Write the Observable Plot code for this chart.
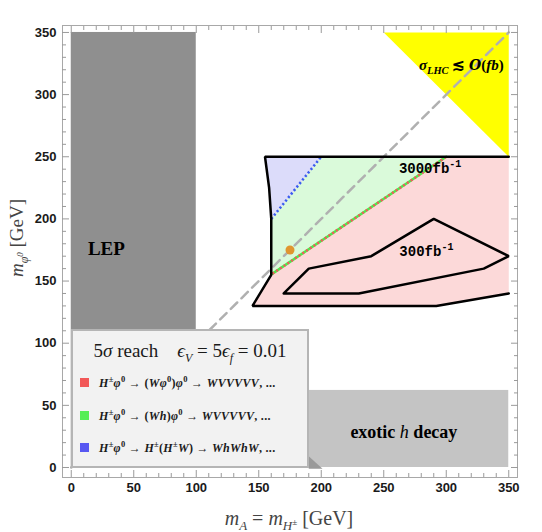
<!DOCTYPE html>
<html><head><meta charset="utf-8">
<script src="https://cdn.jsdelivr.net/npm/d3@7"></script>
<script src="https://cdn.jsdelivr.net/npm/@observablehq/plot@0.6"></script>
<style>
html,body{margin:0;padding:0;background:#fff;}
#wrap{position:relative;width:542px;height:532px;overflow:hidden;}
#wrap svg{position:absolute;left:0;top:0;}
.ann{position:absolute;white-space:nowrap;transform:translate(-50%,-50%);line-height:1;}
.serif{font-family:"Liberation Serif","DejaVu Serif",serif;}
.mono{font-family:"Liberation Mono","DejaVu Sans Mono",monospace;font-weight:bold;}
sup,sub{line-height:0;}
#legend{position:absolute;left:71px;top:329px;width:238px;height:139px;box-sizing:border-box;
  border:2px solid #b5b5b5;background:#f2f2f2;font-family:"Liberation Serif","DejaVu Serif",serif;color:#1a1a1a;}
#legend .title{position:absolute;left:0;width:100%;top:9px;text-align:center;font-size:19px;white-space:nowrap;}
#legend .row{position:absolute;left:7px;white-space:nowrap;font-size:12px;letter-spacing:0.3px;font-weight:bold;}
#legend .row sup{font-size:8.5px;}
#legend .sw{display:inline-block;width:9px;height:9px;margin-right:10px;vertical-align:0px;}
#xlabel{position:absolute;left:289px;top:518px;transform:translate(-50%,-50%);font-size:20px;color:#444;white-space:nowrap;line-height:1;}
#ylabel{position:absolute;left:16px;top:238px;transform:translate(-50%,-50%) rotate(-90deg);font-size:19px;color:#444;white-space:nowrap;line-height:1;}
</style></head><body><div id="wrap"></div>
<script>
// ---- data ----
const majorTicks = [0, 50, 100, 150, 200, 250, 300, 350];
const minorTicks = [10,20,30,40,60,70,80,90,110,120,130,140,160,170,180,190,210,220,230,240,260,270,280,290,310,320,330,340];

const lepBox = [{x1: 0, x2: 100, y1: 0, y2: 350}];
const exoticBox = [{x1: 190, x2: 350, y1: 0, y2: 62}];
const exoticCorner = [[190, 9], [190, -1], [201, -1]];
const lhcRegion = [[250, 350], [350, 350], [350, 250]];
const reach3000Region = [[155, 250], [350, 250], [350, 140], [292, 130], [145, 130], [160, 155], [160, 200], [158.3, 225]];
const greenRegion = [[160, 155], [300, 250], [200, 250], [160, 200]];
const blueRegion = [[160, 200], [200, 250], [155, 250], [158.3, 225]];
const outline3000 = [[350, 140], [292, 130], [145, 130], [160, 155], [160, 200], [158.3, 225], [155, 250], [350, 250]];
const contour300 = [[170, 140], [190, 160], [240, 170], [290, 200], [350, 170], [330, 160], [230, 140], [170, 140]];
const greenEdge = [[161, 156], [300, 250]];
const blueEdge = [[160, 200], [200, 250]];
const diagonal = [[0, 0], [350, 350]];
const benchmark = [{x: 175, y: 175}];

const annotations = [
  {id: "lep",    x: 28.5,  y: 176,   html: '<span class="serif" style="font-weight:bold;font-size:19px">LEP</span>'},
  {id: "exotic", x: 266.5, y: 28.4,  html: '<span class="serif" style="font-weight:bold;font-size:18px">exotic <i style="font-weight:normal">h</i> decay</span>'},
  {id: "lhc",    x: 312.5, y: 323.5, html: '<span class="serif" style="font-weight:bold;font-size:15px"><i>σ</i><sub style="font-size:10.5px"><i>LHC</i></sub> ≲ <span style="font-family:\'DejaVu Serif\';font-style:italic;font-size:14px">O</span>(<i>fb</i>)</span>'},
  {id: "l3000",  x: 287.5, y: 240.5, html: '<span class="mono" style="font-size:14px">3000fb<sup style="font-size:10px">-1</sup></span>'},
  {id: "l300",   x: 284.5, y: 173.5, html: '<span class="mono" style="font-size:14px">300fb<sup style="font-size:10px">-1</sup></span>'}
];

const legendTitle = '5<i>σ</i> reach &nbsp;&nbsp; <i>ϵ<sub style="font-size:12px">V</sub></i> = 5<i>ϵ<sub style="font-size:12px">f</sub></i> = 0.01';
const legendItems = [
  {color: "#f25858", html: '<i>H</i><sup>±</sup><i>φ</i><sup>0</sup> → (<i>Wφ</i><sup>0</sup>)<i>φ</i><sup>0</sup> → <i>WVVVVV</i>, ...'},
  {color: "#55ee55", html: '<i>H</i><sup>±</sup><i>φ</i><sup>0</sup> → (<i>Wh</i>)<i>φ</i><sup>0</sup> → <i>WVVVVV</i>, ...'},
  {color: "#5858f2", html: '<i>H</i><sup>±</sup><i>φ</i><sup>0</sup> → <i>H</i><sup>±</sup>(<i>H</i><sup>±</sup><i>W</i>) → <i>WhWhW</i>, ...'}
];

// ---- chart ----
const pts = a => a.map(([x, y]) => ({x, y}));
const axisStyle = {stroke: "#9a9a9a", fill: "#1a1a1a", fontWeight: "bold", fontSize: 13};

const plot = Plot.plot({
  width: 542, height: 532,
  marginLeft: 62, marginRight: 25, marginTop: 25, marginBottom: 55,
  x: {domain: [-7, 357], label: null},
  y: {domain: [-8.05, 355.6], label: null},
  style: {fontFamily: "'Liberation Sans', Arial, sans-serif", background: "transparent", overflow: "visible"},
  marks: [
    Plot.rect(lepBox, {x1: "x1", x2: "x2", y1: "y1", y2: "y2", fill: "#8f8f8f"}),
    Plot.rect(exoticBox, {x1: "x1", x2: "x2", y1: "y1", y2: "y2", fill: "#c4c4c4"}),
    Plot.line(pts(exoticCorner), {x: "x", y: "y", fill: "#9a9a9a", stroke: "none"}),
    Plot.line(pts(lhcRegion), {x: "x", y: "y", fill: "#ffff00", stroke: "none"}),
    Plot.line(pts(reach3000Region), {x: "x", y: "y", fill: "#fcd9d9", stroke: "none"}),
    Plot.line(pts(greenRegion), {x: "x", y: "y", fill: "#dafada", stroke: "none"}),
    Plot.line(pts(blueRegion), {x: "x", y: "y", fill: "#dcdcfa", stroke: "none"}),
    Plot.line(pts(diagonal), {x: "x", y: "y", stroke: "#b0b0b0", strokeWidth: 2.5, strokeDasharray: "9,6"}),
    Plot.line(pts(greenEdge), {x: "x", y: "y", stroke: "#4ee84e", strokeWidth: 2.5}),
    Plot.line(pts(greenEdge), {x: "x", y: "y", stroke: "#f05a5a", strokeWidth: 2.5, strokeDasharray: "2,2.5", strokeLinecap: "butt"}),
    Plot.line(pts(blueEdge), {x: "x", y: "y", stroke: "#3b5cf0", strokeWidth: 2.5, strokeDasharray: "2.2,2.3", strokeLinecap: "butt"}),
    Plot.line(pts(outline3000), {x: "x", y: "y", stroke: "black", strokeWidth: 2.5, strokeLinejoin: "miter"}),
    Plot.line(pts(contour300), {x: "x", y: "y", stroke: "black", strokeWidth: 2.5, strokeLinejoin: "miter"}),
    Plot.dot(benchmark, {x: "x", y: "y", r: 4.5, fill: "#e0952f", stroke: "none"}),
    Plot.frame({stroke: "#a8a8a8"}),
    Plot.axisX(majorTicks, {anchor: "bottom", tickSize: -7, tickPadding: 12, ...axisStyle}),
    Plot.axisX(minorTicks, {anchor: "bottom", tickSize: -4, tickFormat: () => "", stroke: "#9a9a9a"}),
    Plot.axisX(majorTicks, {anchor: "top", tickSize: -7, tickFormat: () => "", stroke: "#9a9a9a"}),
    Plot.axisX(minorTicks, {anchor: "top", tickSize: -4, tickFormat: () => "", stroke: "#9a9a9a"}),
    Plot.axisY(majorTicks, {anchor: "left", tickSize: -7, tickPadding: 13, ...axisStyle}),
    Plot.axisY(minorTicks, {anchor: "left", tickSize: -4, tickFormat: () => "", stroke: "#9a9a9a"}),
    Plot.axisY(majorTicks, {anchor: "right", tickSize: -7, tickFormat: () => "", stroke: "#9a9a9a"}),
    Plot.axisY(minorTicks, {anchor: "right", tickSize: -4, tickFormat: () => "", stroke: "#9a9a9a"})
  ]
});

const wrap = document.getElementById("wrap");
wrap.appendChild(plot);

const X = plot.scale("x"), Y = plot.scale("y");
for (const a of annotations) {
  const d = document.createElement("div");
  d.className = "ann";
  d.innerHTML = a.html;
  d.style.left = X.apply(a.x) + "px";
  d.style.top = Y.apply(a.y) + "px";
  wrap.appendChild(d);
}

const legend = document.createElement("div");
legend.id = "legend";
legend.innerHTML = `<div class="title">${legendTitle}</div>` +
  legendItems.map((it, i) => `<div class="row" style="top:${45 + i * 32.5}px"><span class="sw" style="background:${it.color}"></span>${it.html}</div>`).join("");
wrap.appendChild(legend);

const xl = document.createElement("div");
xl.id = "xlabel"; xl.className = "serif";
xl.innerHTML = '<i>m<sub style="font-size:13px">A</sub></i> = <i>m<sub style="font-size:13px">H<sup style="font-size:9px">±</sup></sub></i> [GeV]';
wrap.appendChild(xl);
const yl = document.createElement("div");
yl.id = "ylabel"; yl.className = "serif";
yl.innerHTML = '<i>m<sub style="font-size:12px">φ<sup style="font-size:9px">0</sup></sub></i> [GeV]';
wrap.appendChild(yl);
</script></body></html>
